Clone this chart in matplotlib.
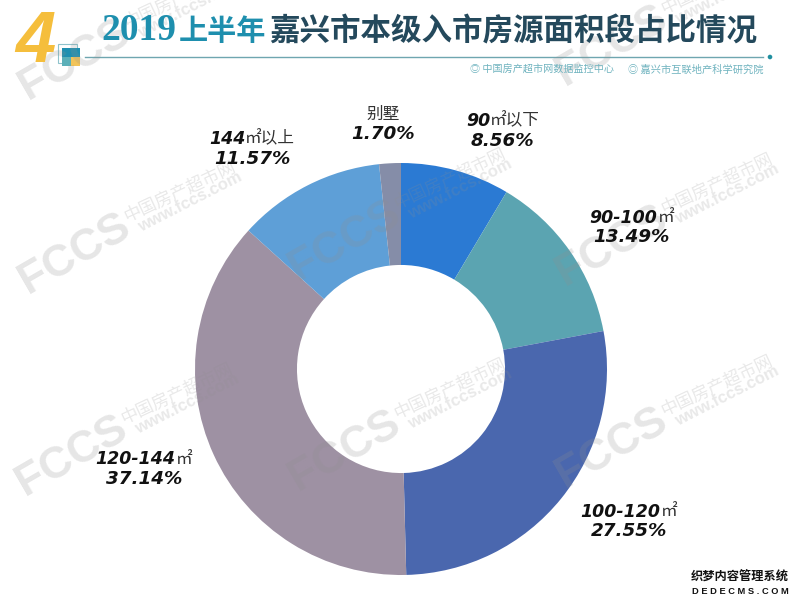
import matplotlib
matplotlib.use("Agg")
import matplotlib.pyplot as plt
from matplotlib.patches import Rectangle, Circle

W, H = 800, 605
categories = ["90㎡以下", "90-100㎡", "100-120㎡", "120-144㎡", "144㎡以上", "别墅"]
shares = [8.56, 13.49, 27.55, 37.14, 11.57, 1.70]
slice_colors = ["#2B7AD3", "#5BA4B1", "#4A67AE", "#9E91A3", "#5E9FD7", "#858DA8"]
label_parts = [[("90", True), ("㎡以下", False)], [("90-100", True), ("㎡", False)],
               [("100-120", True), ("㎡", False)], [("120-144", True), ("㎡", False)],
               [("144", True), ("㎡以上", False)], [("别墅", False)]]
label_centers = [(503, 121), (632, 218), (629, 512), (144, 459), (252, 139), (383, 114)]
pct_labels = ["8.56%", "13.49%", "27.55%", "37.14%", "11.57%", "1.70%"]
pct_centers = [(502, 141), (631, 237), (629, 531), (144, 479), (252, 159), (383, 134)]
logo_spots = [(75, 60), (75, 254), (72, 456), (345, 241), (345, 451), (612, 46), (612, 246), (612, 448)]
CJK = ["Noto Sans CJK SC", "DejaVu Sans"]
LATIN = ["Liberation Sans", "DejaVu Sans"]
WIDE = ["DejaVu Sans"]

fig = plt.figure(figsize=(W / 100, H / 100), dpi=100, facecolor="white")
bg = fig.add_axes([0, 0, 1, 1])
bg.set_xlim(0, W); bg.set_ylim(H, 0); bg.axis("off")

cx, cy, R = 401, 369, 206
pie_ax = fig.add_axes([(cx - R) / W, (H - cy - R) / H, 2 * R / W, 2 * R / H])
pie_ax.pie(shares, colors=slice_colors, startangle=90, counterclock=False, radius=1,
           wedgeprops=dict(width=0.495, linewidth=0))
pie_ax.set_xlim(-1, 1); pie_ax.set_ylim(-1, 1)

top = fig.add_axes([0, 0, 1, 1], facecolor="none")
top.set_xlim(0, W); top.set_ylim(H, 0); top.axis("off")

# watermarks
for (x, y) in logo_spots:
    top.text(x, y, "FCCS", fontsize=32, family=LATIN, weight="bold", color="#8f8f8f", alpha=0.22,
             rotation=30, ha="center", va="center", rotation_mode="anchor")
    top.text(x + 105, y - 63, "中国房产超市网", fontsize=12.5, family=CJK, color="#8f8f8f", alpha=0.2,
             rotation=25, ha="center", va="center", rotation_mode="anchor")
    top.text(x + 115, y - 52, "www.fccs.com", fontsize=12, family=LATIN, weight="bold", color="#8f8f8f", alpha=0.2,
             rotation=27, ha="center", va="center", rotation_mode="anchor")

# header
top.text(35, 43, "4", fontsize=52, family=LATIN, style="italic", weight="bold", color="#F5BE3C",
         ha="center", va="center")
top.add_patch(Rectangle((58, 44), 19, 19, fill=False, edgecolor="#8FC3CC", lw=0.8))
for (x, y, c) in [(62, 48, "#1F8FB0"), (71, 48, "#1F8FB0"), (62, 57, "#5BAFB8"), (71, 57, "#F2C45A")]:
    top.add_patch(Rectangle((x, y), 8.5, 8.5, color=c, lw=0))
top.plot([85, 763], [57, 57], color="#6FA6B0", lw=1)
top.add_patch(Circle((770, 57), 2.3, color="#1F8FA0", lw=0))
top.text(101, 31, "2019", fontsize=27, family=["Liberation Serif"], weight="bold", color="#1E8FAE", ha="left", va="center")
top.text(266, 31, "上半年", fontsize=21, family=CJK, weight="bold", color="#1E8FAE", ha="right", va="center")
top.text(757, 31, "嘉兴市本级入市房源面积段占比情况", fontsize=22, family=CJK, weight="bold", color="#24495C",
         ha="right", va="center")
top.text(470, 70, "◎ 中国房产超市网数据监控中心", fontsize=7.25, family=CJK, color="#6FB3BF", ha="left", va="center")
top.text(763, 70, "◎ 嘉兴市互联地产科学研究院", fontsize=7.35, family=CJK, color="#6FB3BF", ha="right", va="center")

# labels
rend = fig.canvas.get_renderer()
def mixed(parts, xc, yc):
    arts = []
    for s, bold in parts:
        if bold:
            t = top.text(0, yc, s, fontsize=12.5, family=WIDE, weight="bold", style="italic", color="#111111",
                         ha="left", va="center")
        else:
            t = top.text(0, yc, s, fontsize=12, family=CJK, color="#333333", ha="left", va="center")
        arts.append(t)
    widths = [a.get_window_extent(rend).width for a in arts]
    x = xc - sum(widths) / 2
    for a, w in zip(arts, widths):
        a.set_x(x)
        x += w

for parts, (x, y) in zip(label_parts, label_centers):
    mixed(parts, x, y)
for s, (x, y) in zip(pct_labels, pct_centers):
    top.text(x, y, s, fontsize=13.2, family=WIDE, weight="bold", style="italic", color="#111111",
             ha="center", va="center")

# corner stamp
top.text(740, 577, "织梦内容管理系统", fontsize=8.8, family=CJK, weight="bold", color="#111111", ha="center", va="center",
         bbox=dict(facecolor="white", edgecolor="none", pad=0.5))
top.text(740, 591, "D E D E C M S . C O M", fontsize=6.7, family=LATIN, weight="bold", color="#111111", ha="center", va="center",
         bbox=dict(facecolor="white", edgecolor="none", pad=0.5))

fig.savefig("out.png", dpi=100, facecolor="white")
